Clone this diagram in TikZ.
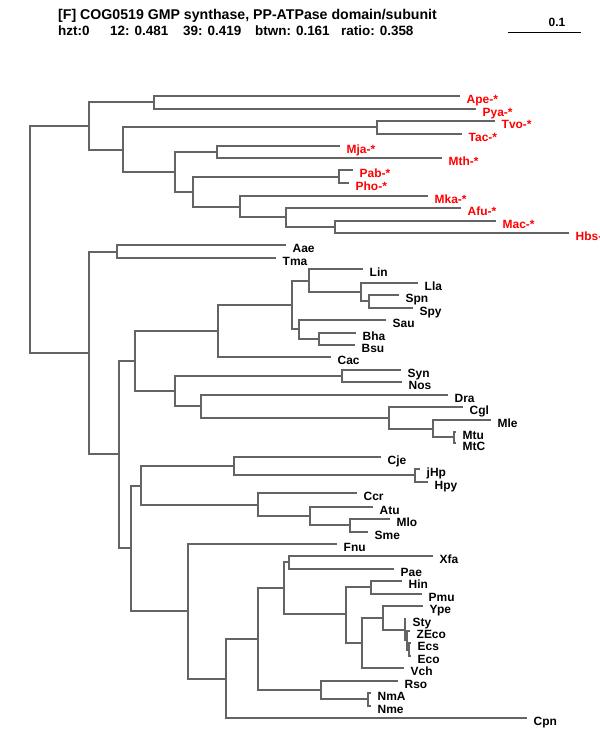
\documentclass[tikz,border=0pt]{standalone}
\usepackage{fontspec}
\setmainfont{Liberation Sans}
\definecolor{linegray}{RGB}{100,100,100}
\definecolor{archred}{RGB}{255,0,0}
\begin{document}
\begin{tikzpicture}[x=1bp,y=-1bp,
  br/.style={draw=linegray,line width=2bp},
  lab/.style={anchor=base west,inner sep=0pt,xshift=6.5bp,yshift=-7.5bp,font=\bfseries\fontsize{12}{12}\selectfont},
  blab/.style={lab,text=black},
  rlab/.style={lab,text=archred},
  head/.style={anchor=base west,inner sep=0pt,font=\bfseries\fontsize{13.5}{13.5}\selectfont}]
\useasboundingbox (0,0) rectangle (600,750);
\clip (0,0) rectangle (600,750);
% header
\node[head,font=\bfseries\fontsize{14.2}{14.2}\selectfont] (title) at (58,19.5) {[F] COG0519 GMP synthase, PP-ATPase domain/subunit};
\node[head] (h1) at (58,36) {hzt:0};
\node[head] (h2) at (110,36) {12: 0.481};
\node[head] (h3) at (183,36) {39: 0.419};
\node[head] (h4) at (255,36) {btwn: 0.161};
\node[head] (h5) at (341,36) {ratio: 0.358};
\coordinate (sbL) at (508,32.5);
\coordinate (sbR) at (581,32.5);
\draw[black,line width=1bp] (sbL) -- (sbR);
\node[head,anchor=base,font=\bfseries\fontsize{12}{12}\selectfont] (sbt) at (557,27) {0.1};
% internal nodes
\foreach \n/\x/\y in {r/30/240, nA/89/126, n1/154/102, n2/123/150, n3/377/127,
  n4/175/172, n5/217/152, n6/193/192, n7/339/177, n8/240/207, n9/286/217,
  n10/335/227, nB/89/353, n11/117/252, n12/119/454, n13/135/361, n15/218/331,
  n17/292/305, n18/309/281, n20/361/292, n21/369/301, n19/299/329, n22/319/339,
  n16/175/391, n23/342/376, n24/201/406, n25/389/418, n26/433/429, n27/454/437,
  n14/131/548, n28/141/486, n30/234/466, n32/415/475, n31/258/505, n33/310/516,
  n34/350/525, n29/188/611, n35/226/679, n36/258/639, n37/284/588, n39/289/562,
  n40/346/614, n41/371/587, n42/362/643, n43/383/618, n44/405/630, n45/407/640,
  n46/409/650, n38/321/690, n47/368/699}
  {\coordinate (\n) at (\x,\y);}
% archaeal leaves
\foreach \n/\x/\y in {Ape/460/96, Pya/476/109, Tvo/495/121, Tac/462/134, Mja/340/146,
  Mth/442/158, Pab/353/170, Pho/349/183, Mka/428/196, Afu/461/208, Mac/496/221, Hbs/569/233}
  {\coordinate (\n) at (\x,\y);}
% bacterial leaves
\foreach \n/\x/\y in {Aae/286/245, Tma/276/258, Lin/363/269, Lla/418/283, Spn/399/295,
  Spy/413/308, Sau/386/320, Bha/356/333, Bsu/355/345, Cac/331/357, Syn/401/370, Nos/402/382,
  Dra/448/395, Cgl/463/407, Mle/491/420, Mtu/456/432, MtC/456/443, Cje/381/457, jHp/420/469,
  Hpy/428/482, Ccr/357/493, Atu/373/507, Mlo/390/519, Sme/368/532, Fnu/337/544, Xfa/433/556,
  Pae/394/569, Hin/402/581, Pmu/422/594, Ype/423/606, Sty/406/619, ZEco/410/631,
  Ecs/411/643, Eco/411/656, Vch/404/668, Rso/398/681, NmA/371/693, Nme/371/706, Cpn/527/718}
  {\coordinate (\n) at (\x,\y);}
% branches
\foreach \c/\p in {nA/r, nB/r, n1/nA, n2/nA, Ape/n1, Pya/n1, n3/n2, n4/n2, Tvo/n3, Tac/n3,
  n5/n4, n6/n4, Mja/n5, Mth/n5, n7/n6, n8/n6, Pab/n7, Pho/n7, Mka/n8, n9/n8, Afu/n9, n10/n9,
  Mac/n10, Hbs/n10, n11/nB, n12/nB, Aae/n11, Tma/n11, n13/n12, n14/n12, n15/n13, n16/n13,
  n17/n15, Cac/n15, n18/n17, n19/n17, Lin/n18, n20/n18, Lla/n20, n21/n20, Spn/n21, Spy/n21,
  Sau/n19, n22/n19, Bha/n22, Bsu/n22, n23/n16, n24/n16, Syn/n23, Nos/n23, Dra/n24, n25/n24,
  Cgl/n25, n26/n25, Mle/n26, n27/n26, Mtu/n27, MtC/n27, n28/n14, n29/n14, n30/n28, n31/n28,
  Cje/n30, n32/n30, jHp/n32, Hpy/n32, Ccr/n31, n33/n31, Atu/n33, n34/n33, Mlo/n34, Sme/n34,
  Fnu/n29, n35/n29, n36/n35, Cpn/n35, n37/n36, n38/n36, n39/n37, n40/n37, Xfa/n39, Pae/n39,
  n41/n40, n42/n40, Hin/n41, Pmu/n41, n43/n42, Vch/n42, Ype/n43, n44/n43, Sty/n44, n45/n44,
  ZEco/n45, n46/n45, Ecs/n46, Eco/n46, Rso/n38, n47/n38, NmA/n47, Nme/n47}
  {\draw[br] (\c) -| (\p);}
% labels
\foreach \n in {Ape,Pya,Tvo,Tac,Mja,Mth,Pab,Pho,Mka,Afu,Mac,Hbs}
  {\node[rlab] (t\n) at (\n) {\n-*};}
\foreach \n in {Aae,Tma,Lin,Lla,Spn,Spy,Sau,Bha,Bsu,Cac,Syn,Nos,Dra,Cgl,Mle,Mtu,MtC,Cje,jHp,
  Hpy,Ccr,Atu,Mlo,Sme,Fnu,Xfa,Pae,Hin,Pmu,Ype,Sty,ZEco,Ecs,Eco,Vch,Rso,NmA,Nme,Cpn}
  {\node[blab] (t\n) at (\n) {\n};}
\end{tikzpicture}
\end{document}
